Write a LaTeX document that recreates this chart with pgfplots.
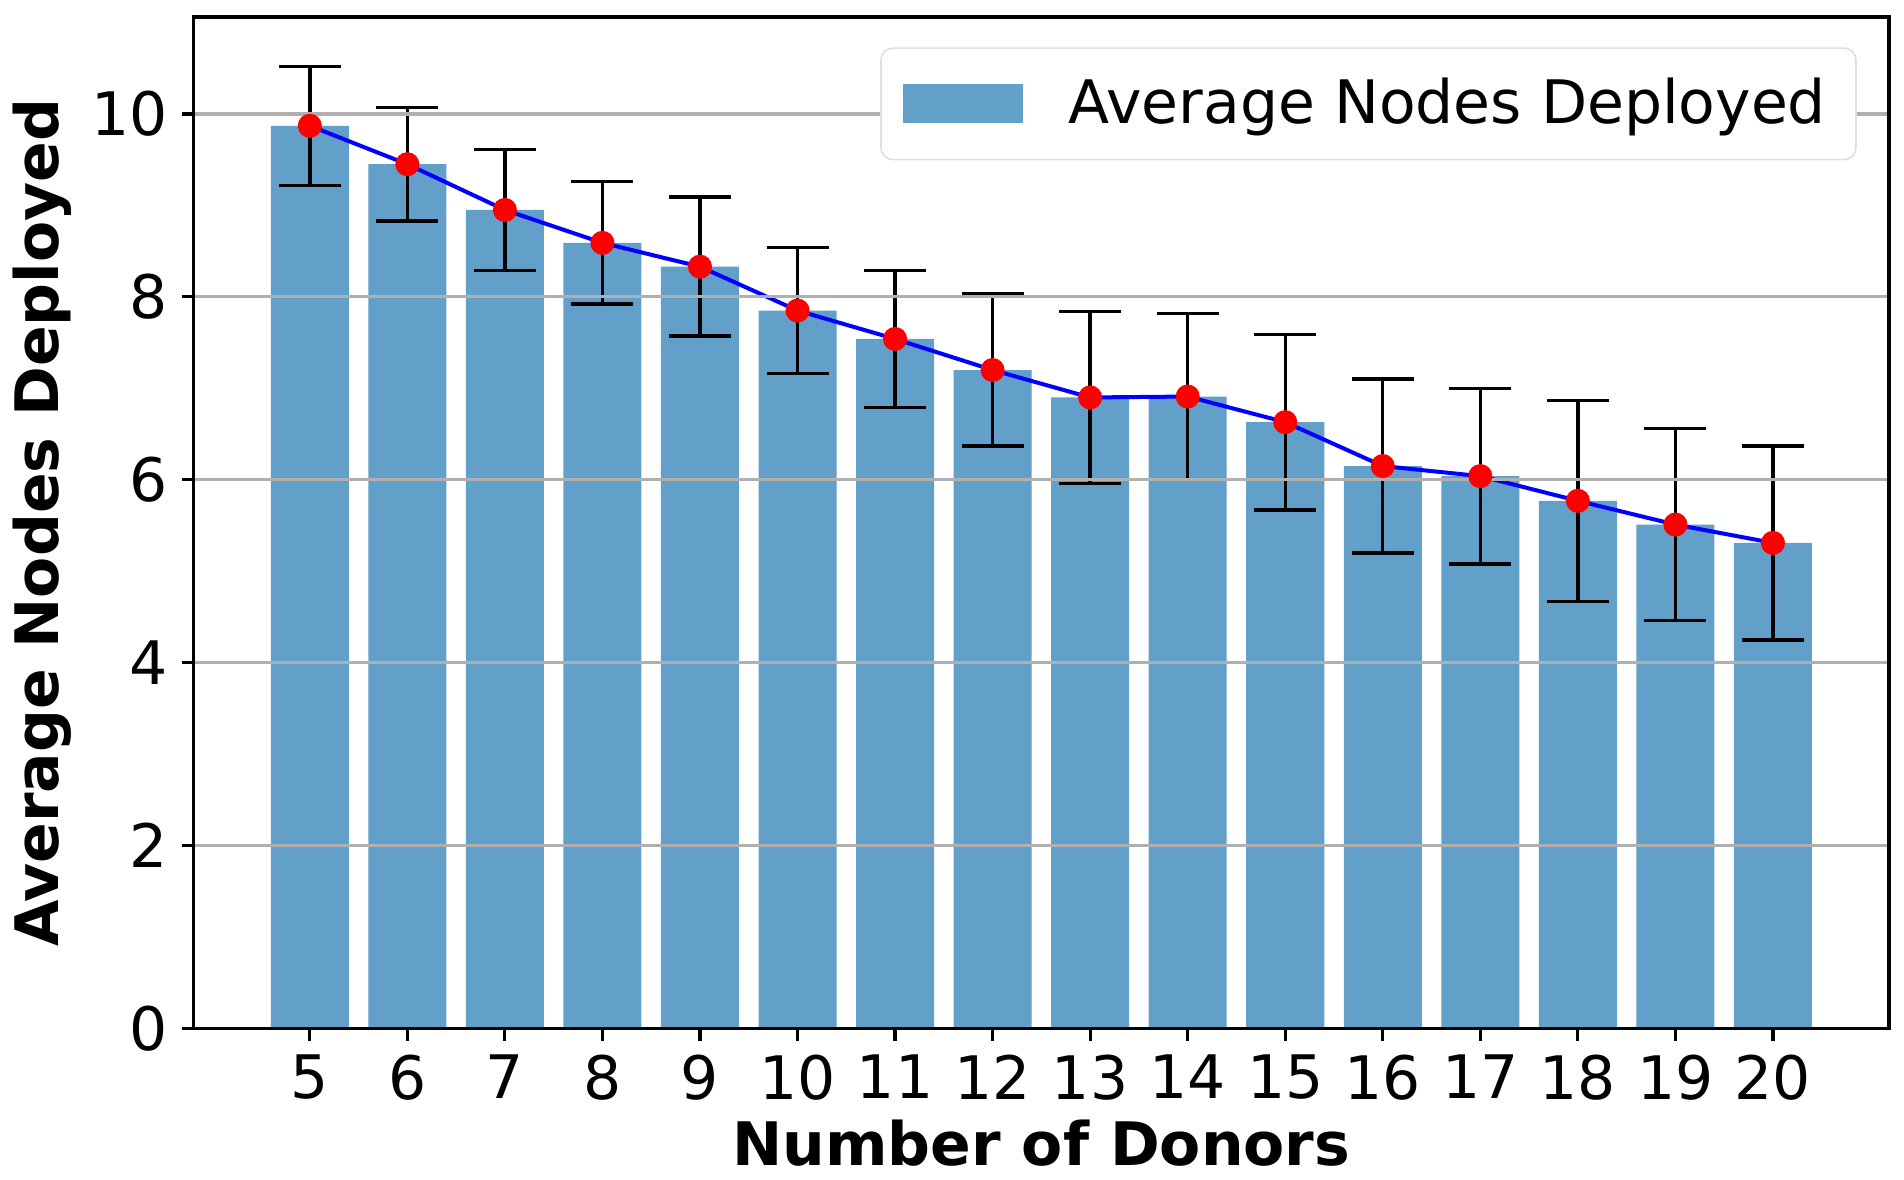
\documentclass[border=0pt]{standalone}
\usepackage{fontspec}
\setmainfont{DejaVu Sans}
\usepackage{pgfplots}
\usepackage{pgfplotstable}
\pgfplotsset{compat=1.18}

\definecolor{barblue}{RGB}{98,160,202}
\definecolor{gridgray}{RGB}{176,176,176}

% donors, mean nodes deployed, std
\pgfplotstableread{
x y err
5 9.87 0.65
6 9.45 0.62
7 8.95 0.66
8 8.59 0.67
9 8.33 0.76
10 7.85 0.69
11 7.54 0.75
12 7.20 0.83
13 6.90 0.94
14 6.91 0.91
15 6.63 0.96
16 6.15 0.95
17 6.04 0.96
18 5.77 1.10
19 5.51 1.05
20 5.31 1.06
}\nodes

\begin{document}
\begin{tikzpicture}
\begin{axis}[
    scale only axis,
    width=424pt, height=253pt,
    xmin=3.81, xmax=21.19,
    ymin=0, ymax=11.06,
    xtick={5,...,20},
    ytick={0,2,...,10},
    tick align=outside,
    tick pos=left,
    major tick length=3pt,
    tick style={black, line width=0.8pt},
    axis line style={black, line width=0.8pt},
    ymajorgrids,
    grid style={gridgray, line width=0.8pt},
    axis on top,
    /pgf/number format/assume math mode=true,
    ticklabel style={font=\fontsize{15}{18}\selectfont},
    xlabel={\bfseries Number of Donors},
    ylabel={\bfseries Average Nodes Deployed},
    label style={font=\fontsize{15}{18}\selectfont},
    xlabel style={yshift=2pt},
    ylabel style={yshift=-2pt},
    legend style={
        at={(0.981,0.970)}, anchor=north east,
        draw=gray!25, rounded corners=3pt,
        font=\fontsize{15}{18}\selectfont,
        inner xsep=5.5pt, inner ysep=5.5pt,
        cells={anchor=west},
    },
    legend image code/.code={
        \fill[barblue, sharp corners] (0pt,-4.85pt) rectangle (30pt,4.85pt);
    },
]
\addplot[ybar, bar width=0.8, fill=barblue, draw=none]
    table[x=x, y=y] {\nodes};
\addlegendentry{\hspace{9.5pt}Average Nodes Deployed}

\addplot[draw=none, forget plot,
    error bars/.cd, y dir=both, y explicit,
    error bar style={black, line width=0.85pt},
    error mark options={rotate=90, black, mark size=7.75pt, line width=0.85pt}]
    table[x=x, y=y, y error=err] {\nodes};

\addplot[blue, line width=1pt, mark=*, mark size=2.5pt,
    mark options={draw=red, fill=red}, forget plot]
    table[x=x, y=y] {\nodes};
\end{axis}
% margins above and right of the axis box
\path ([xshift=3.75pt, yshift=4.25pt]current axis.north east);
\end{tikzpicture}
\end{document}
